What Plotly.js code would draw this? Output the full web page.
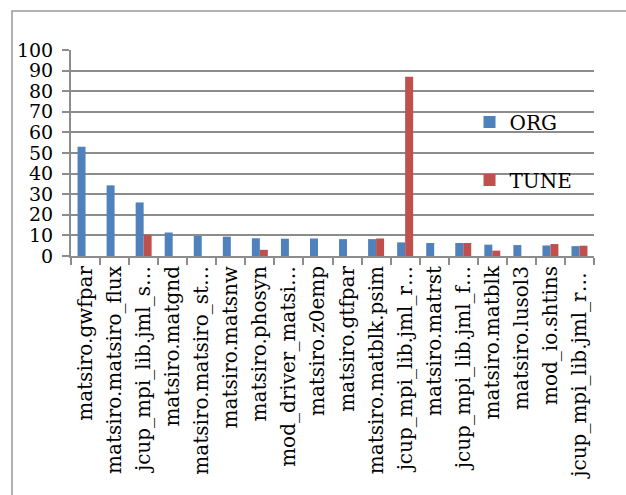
<!DOCTYPE html>
<html>
<head>
<meta charset="utf-8">
<script src="https://cdn.plot.ly/plotly-3.0.1.min.js"></script>
<style>
  html, body { margin: 0; padding: 0; background: #fff; }
  #chart { width: 626px; height: 495px; }
</style>
</head>
<body>
<div id="chart"></div>
<script>
// Routine names (truncated as they appear on the axis)
const routines = [
  "matsiro.gwfpar",
  "matsiro.matsiro_flux",
  "jcup_mpi_lib.jml_s…",
  "matsiro.matgnd",
  "matsiro.matsiro_st…",
  "matsiro.matsnw",
  "matsiro.phosyn",
  "mod_driver_matsi…",
  "matsiro.z0emp",
  "matsiro.gtfpar",
  "matsiro.matblk.psim",
  "jcup_mpi_lib.jml_r…",
  "matsiro.matrst",
  "jcup_mpi_lib.jml_f…",
  "matsiro.matblk",
  "matsiro.lusol3",
  "mod_io.shtins",
  "jcup_mpi_lib.jml_r… "
];

// Cost per routine, original code
const orgValues = [53, 34.3, 26, 11.4, 9.7, 9.4, 8.6, 8.4, 8.5, 8.2, 8.2, 6.6, 6.3, 6.3, 5.5, 5.3, 5.1, 4.8];
// Cost per routine, tuned code (null = not listed)
const tuneValues = [null, null, 10.3, null, null, null, 3, null, null, null, 8.5, 87, null, 6.3, 2.6, null, 5.8, 5];

const yTicks = [0, 10, 20, 30, 40, 50, 60, 70, 80, 90, 100];

const serif = "DejaVu Serif, serif";
const grey = "#8c8c8c";

const traces = [
  {
    type: "bar",
    name: "ORG",
    x: routines,
    y: orgValues,
    marker: { color: "#4f81bd" },
    legendgroup: "org",
    hoverinfo: "x+y"
  },
  {
    type: "bar",
    name: "TUNE",
    x: routines,
    y: tuneValues,
    marker: { color: "#c0504d" },
    legendgroup: "tune",
    hoverinfo: "x+y"
  }
];

const layout = {
  width: 626,
  height: 495,
  margin: { l: 71, r: 32, t: 50, b: 239, pad: 0 },
  paper_bgcolor: "#ffffff",
  plot_bgcolor: "#ffffff",
  font: { family: serif, size: 19, color: "#000" },
  barmode: "group",
  bargap: 0.45,
  bargroupgap: 0,
  showlegend: true,
  legend: {
    x: 0.762,
    xanchor: "left",
    y: 0.745,
    yanchor: "top",
    bgcolor: "rgba(0,0,0,0)",
    traceorder: "grouped",
    tracegroupgap: 29,
    itemwidth: 30,
    font: { family: serif, size: 20, color: "#000" }
  },
  xaxis: {
    type: "category",
    tickangle: -90,
    showline: true,
    linecolor: grey,
    linewidth: 2,
    ticks: "outside",
    tickson: "boundaries",
    ticklen: 7,
    tickwidth: 2,
    tickcolor: grey,
    showgrid: false,
    tickfont: { family: serif, size: 20, color: "#000" },
    automargin: false
  },
  yaxis: {
    range: [0, 100],
    tickvals: yTicks,
    ticktext: yTicks.map(String),
    showline: true,
    linecolor: grey,
    linewidth: 2,
    ticks: "outside",
    ticklen: 7,
    tickwidth: 2,
    tickcolor: grey,
    showgrid: true,
    gridcolor: grey,
    gridwidth: 2,
    zeroline: false,
    ticklabelstandoff: 5,
    tickfont: { family: serif, size: 19, color: "#000" },
    automargin: false
  },
  shapes: [
    {
      // outer frame around the chart area
      type: "rect",
      xref: "paper",
      yref: "paper",
      x0: -0.1128,
      x1: 1.08,
      y0: -1.2,
      y1: 1.189,
      line: { color: "#999999", width: 1.5 },
      fillcolor: "rgba(0,0,0,0)",
      layer: "below"
    }
  ]
};

Plotly.newPlot("chart", traces, layout, { displayModeBar: false, staticPlot: true });
</script>
</body>
</html>
